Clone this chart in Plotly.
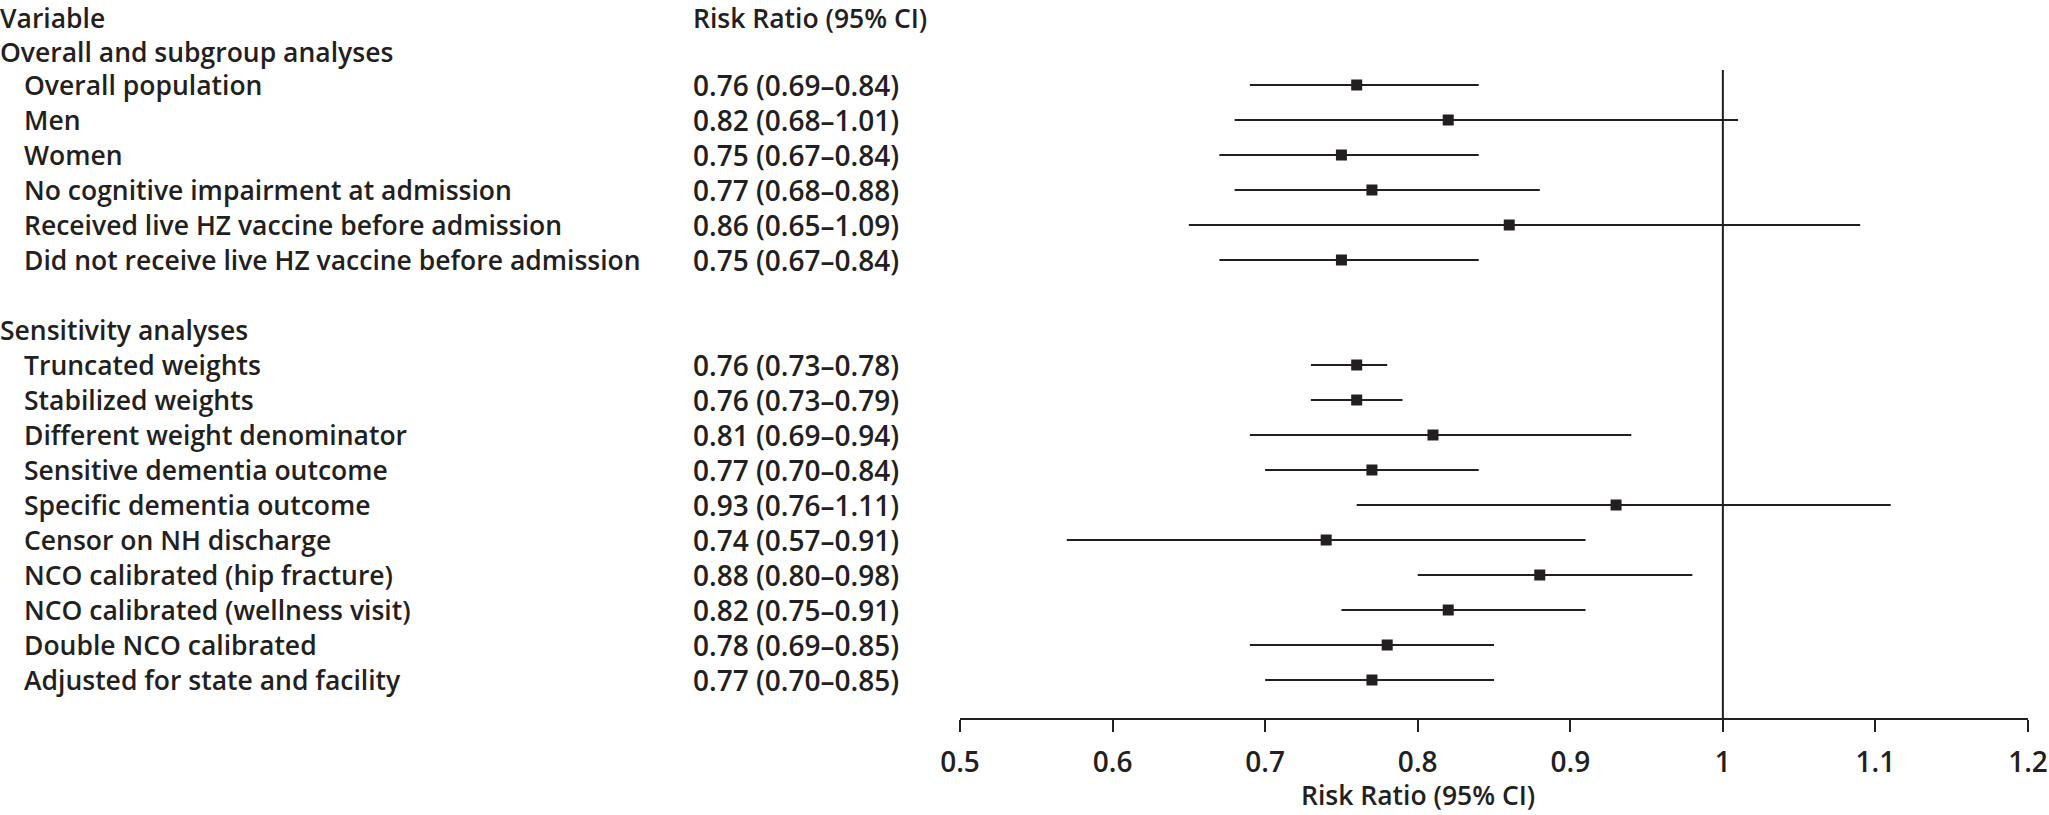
import plotly.graph_objects as go

W, H = 2049, 815
TXT = "#231f20"
FONT = "Open Sans"
FS = 26.5       # label text
FS_NUM = 28     # numeric column and tick labels

# ---- data ----
group1_labels = ["Overall population", "Men", "Women",
                 "No cognitive impairment at admission",
                 "Received live HZ vaccine before admission",
                 "Did not receive live HZ vaccine before admission"]
group1_rr = [0.76, 0.82, 0.75, 0.77, 0.86, 0.75]
group1_lo = [0.69, 0.68, 0.67, 0.68, 0.65, 0.67]
group1_hi = [0.84, 1.01, 0.84, 0.88, 1.09, 0.84]

group2_labels = ["Truncated weights", "Stabilized weights",
                 "Different weight denominator", "Sensitive dementia outcome",
                 "Specific dementia outcome", "Censor on NH discharge",
                 "NCO calibrated (hip fracture)", "NCO calibrated (wellness visit)",
                 "Double NCO calibrated", "Adjusted for state and facility"]
group2_rr = [0.76, 0.76, 0.81, 0.77, 0.93, 0.74, 0.88, 0.82, 0.78, 0.77]
group2_lo = [0.73, 0.73, 0.69, 0.70, 0.76, 0.57, 0.80, 0.75, 0.69, 0.70]
group2_hi = [0.78, 0.79, 0.94, 0.84, 1.11, 0.91, 0.98, 0.91, 0.85, 0.85]

section_titles = ["Overall and subgroup analyses", "Sensitivity analyses"]
col_headers = ["Variable", "Risk Ratio (95% CI)"]
tick_vals = [0.5, 0.6, 0.7, 0.8, 0.9, 1.0, 1.1, 1.2]
tick_text = ["0.5", "0.6", "0.7", "0.8", "0.9", "1", "1.1", "1.2"]
axis_title = "Risk Ratio (95% CI)"

# ---- layout geometry (pixels) ----
ROW0_Y = 85      # pixel y of first data row
ROW_H = 35       # row spacing
AXIS_Y = 719     # pixel y of x-axis line
REF_TOP_Y = 70   # top of the reference line at RR = 1
TITLE_Y = 795
X0_PX, X1_PX = 960, 2028
LABEL_X = 24
SECTION_X = 0
CI_X = 693

g1_rows = list(range(0, len(group1_labels)))
g2_start = len(group1_labels) + 2
g2_rows = list(range(g2_start, g2_start + len(group2_labels)))
section_rows = [-1 + 1.5 / ROW_H, g2_start - 1]

ymin_row = -ROW0_Y / ROW_H
ymax_row = (H - ROW0_Y) / ROW_H
axis_row = (AXIS_Y - ROW0_Y) / ROW_H
ref_top_row = (REF_TOP_Y - ROW0_Y) / ROW_H

rows = g1_rows + g2_rows
labels = group1_labels + group2_labels
rr = group1_rr + group2_rr
lo = group1_lo + group2_lo
hi = group1_hi + group2_hi

fig = go.Figure()
fig.add_trace(go.Scatter(
    x=rr, y=rows, mode="markers",
    marker=dict(symbol="square", size=11, color=TXT),
    error_x=dict(type="data", symmetric=False,
                 array=[h - r for h, r in zip(hi, rr)],
                 arrayminus=[r - l for r, l in zip(rr, lo)],
                 color=TXT, thickness=2.2, width=0),
    hoverinfo="skip", showlegend=False,
))

ann = []
def txt(x_px, row, s, size=FS, anchor="middle"):
    ann.append(dict(x=x_px / W, xref="paper", y=row, yref="y", text=s,
                    showarrow=False, xanchor="left", yanchor=anchor,
                    borderpad=0, borderwidth=0,
                    font=dict(family=FONT, size=size, color=TXT, weight=600)))

# header row sits at the very top of the page
txt(SECTION_X, ymin_row, col_headers[0], anchor="top")
txt(CI_X, ymin_row, col_headers[1], anchor="top")
for r, s in zip(section_rows, section_titles):
    txt(SECTION_X, r, s)
for r, s, v, l, h in zip(rows, labels, rr, lo, hi):
    txt(LABEL_X, r, s)
    txt(CI_X, r, f"{v:.2f} ({l:.2f}–{h:.2f})", size=FS_NUM)

ann.append(dict(x=0.8, xref="x", y=1 - TITLE_Y / H, yref="paper", text=axis_title,
                showarrow=False, xanchor="center", yanchor="middle",
                borderpad=0, borderwidth=0,
                font=dict(family=FONT, size=FS, color=TXT, weight=600)))

fig.update_layout(
    width=W, height=H,
    margin=dict(l=0, r=0, t=0, b=0, autoexpand=False),
    paper_bgcolor="white", plot_bgcolor="white",
    annotations=ann,
    shapes=[dict(type="line", xref="x", yref="y", x0=1.0, x1=1.0,
                 y0=ref_top_row, y1=axis_row, line=dict(color=TXT, width=2))],
    xaxis=dict(domain=[X0_PX / W, X1_PX / W], range=[0.5, 1.2],
               tickvals=tick_vals, ticktext=tick_text,
               showgrid=False, zeroline=False, showline=True,
               linecolor=TXT, linewidth=2, ticks="outside", ticklen=12,
               tickwidth=2, tickcolor=TXT, anchor="free",
               position=1 - AXIS_Y / H, ticklabelstandoff=6,
               tickfont=dict(family=FONT, size=FS_NUM, color=TXT, weight=600)),
    yaxis=dict(range=[ymax_row, ymin_row], visible=False, domain=[0, 1]),
)

fig.write_html("out.html")
